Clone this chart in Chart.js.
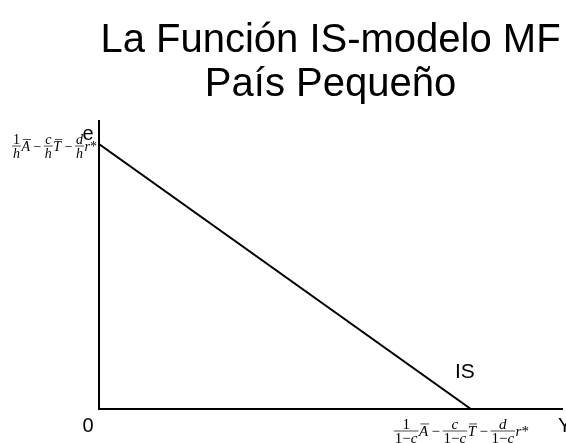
<!DOCTYPE html>
<html lang="es">
<head>
<meta charset="UTF-8" />
<title>La Función IS-modelo MF</title>
<script src="https://cdn.jsdelivr.net/npm/chart.js"></script>
<style>
  html, body { margin: 0; padding: 0; background: #fff; }
  .wrap { width: 566px; height: 443px; }
</style>
</head>
<body>
<div class="wrap"><canvas id="isChart"></canvas></div>
<script>
  const titleLines = ['La Función IS-modelo MF', 'País Pequeño'];

  // curva IS: de intercepto en e a intercepto en Y
  const isX = [0, 100];
  const isY = [100, 0];
  const xMax = 124.5;
  const yMax = 108.7;

  const yAxisLabel = 'e';
  const xAxisLabel = 'Y';
  const originLabel = '0';
  const curveLabel = 'IS';

  // [numerador, denominador, símbolo]
  const yInterceptTerms = [['1', 'h', 'A'], ['c', 'h', 'T'], ['d', 'h', 'r*']];
  const xInterceptTerms = [['1', '1−c', 'A'], ['c', '1−c', 'T'], ['d', '1−c', 'r*']];

  function fontFor(ch, size) {
    return (/[a-zA-Z]/.test(ch) ? 'italic ' : '') + size + 'px "Liberation Serif", "Times New Roman", serif';
  }
  function mixedWidth(ctx, s, size) {
    let w = 0;
    for (const ch of s) { ctx.font = fontFor(ch, size); w += ctx.measureText(ch).width; }
    return w;
  }
  function drawMixed(ctx, s, x, y, size) {
    for (const ch of s) {
      ctx.font = fontFor(ch, size);
      ctx.fillText(ch, x, y);
      x += ctx.measureText(ch).width;
    }
  }

  // dibuja "n/d S − n/d S − ..." ; anchor: 'left' | 'right' | 'center'
  function drawExpr(ctx, terms, ax, yBar, size, anchor) {
    const pieces = [];
    terms.forEach((t, i) => {
      if (i > 0) pieces.push({ kind: 'op', text: '−' });
      pieces.push({ kind: 'frac', n: t[0], d: t[1] });
      pieces.push({ kind: 'sym', text: t[2] });
    });
    let total = 0;
    pieces.forEach(p => {
      if (p.kind === 'frac') p.w = Math.max(mixedWidth(ctx, p.n, size), mixedWidth(ctx, p.d, size)) + 2;
      else if (p.kind === 'op') p.w = mixedWidth(ctx, p.text, size) + 5;
      else p.w = mixedWidth(ctx, p.text, size) + 1.5;
      total += p.w;
    });
    let x = anchor === 'right' ? ax - total : anchor === 'center' ? ax - total / 2 : ax;
    ctx.save();
    ctx.fillStyle = '#000';
    ctx.strokeStyle = '#000';
    ctx.textAlign = 'left';
    ctx.textBaseline = 'alphabetic';
    pieces.forEach(p => {
      if (p.kind === 'frac') {
        const nw = mixedWidth(ctx, p.n, size);
        const dw = mixedWidth(ctx, p.d, size);
        drawMixed(ctx, p.n, x + (p.w - nw) / 2, yBar - 2, size);
        drawMixed(ctx, p.d, x + (p.w - dw) / 2, yBar + size * 0.82, size);
        ctx.lineWidth = 0.7;
        ctx.beginPath();
        ctx.moveTo(x, yBar);
        ctx.lineTo(x + p.w, yBar);
        ctx.stroke();
      } else if (p.kind === 'op') {
        drawMixed(ctx, p.text, x + 2.5, yBar + size * 0.33, size);
      } else {
        const base = yBar + size * 0.33;
        drawMixed(ctx, p.text, x + 0.5, base, size);
        if (p.text === 'A' || p.text === 'T') {
          ctx.lineWidth = 0.7;
          ctx.beginPath();
          ctx.moveTo(x + 2, base - size * 0.8);
          ctx.lineTo(x + p.w, base - size * 0.8);
          ctx.stroke();
        }
      }
      x += p.w;
    });
    ctx.restore();
  }

  const labelsPlugin = {
    id: 'isLabels',
    afterDraw(chart) {
      const { ctx, chartArea, scales } = chart;
      const x0 = scales.x.getPixelForValue(0);
      const xInt = scales.x.getPixelForValue(isX[1]);
      const yInt = scales.y.getPixelForValue(isY[0]);
      const sans = '"Liberation Sans", Arial, sans-serif';
      ctx.save();
      ctx.fillStyle = '#000';
      ctx.textBaseline = 'middle';
      ctx.textAlign = 'center';
      ctx.font = '20px ' + sans;
      ctx.fillText(yAxisLabel, x0 - 11, chartArea.top + 13);
      ctx.fillText(originLabel, x0 - 11, chartArea.bottom + 17);
      ctx.textAlign = 'left';
      ctx.fillText(xAxisLabel, scales.x.getPixelForValue(xMax) - 4, chartArea.bottom + 17);
      ctx.textAlign = 'center';
      ctx.font = '21px ' + sans;
      ctx.fillText(curveLabel, xInt - 6, chartArea.bottom - 37);
      ctx.restore();

      drawExpr(ctx, yInterceptTerms, x0 - 1, yInt + 2, 14, 'right');
      drawExpr(ctx, xInterceptTerms, xInt - 9, chartArea.bottom + 22, 15, 'center');
    }
  };

  const ctx = document.getElementById('isChart').getContext('2d');
  new Chart(ctx, {
    type: 'scatter',
    data: {
      datasets: [{
        data: isX.map((x, i) => ({ x, y: isY[i] })),
        showLine: true,
        borderColor: '#000',
        borderWidth: 2,
        pointRadius: 0,
        fill: false
      }]
    },
    options: {
      responsive: true,
      maintainAspectRatio: false,
      animation: false,
      layout: { padding: { left: 91, right: 4, top: 0, bottom: 26 } },
      scales: {
        x: {
          type: 'linear', min: 0, max: xMax,
          grid: { display: false },
          ticks: { display: false },
          border: { display: true, color: '#000', width: 2 }
        },
        y: {
          type: 'linear', min: 0, max: yMax,
          grid: { display: false },
          ticks: { display: false },
          border: { display: true, color: '#000', width: 2 }
        }
      },
      plugins: {
        legend: { display: false },
        tooltip: { enabled: false },
        title: {
          display: true,
          text: titleLines,
          fullSize: false,
          color: '#000',
          font: { family: '"Liberation Sans", Arial, sans-serif', size: 40, weight: 'normal', lineHeight: 1.1 },
          padding: { top: 18.5, bottom: 14.5 }
        }
      }
    },
    plugins: [labelsPlugin]
  });
</script>
</body>
</html>
